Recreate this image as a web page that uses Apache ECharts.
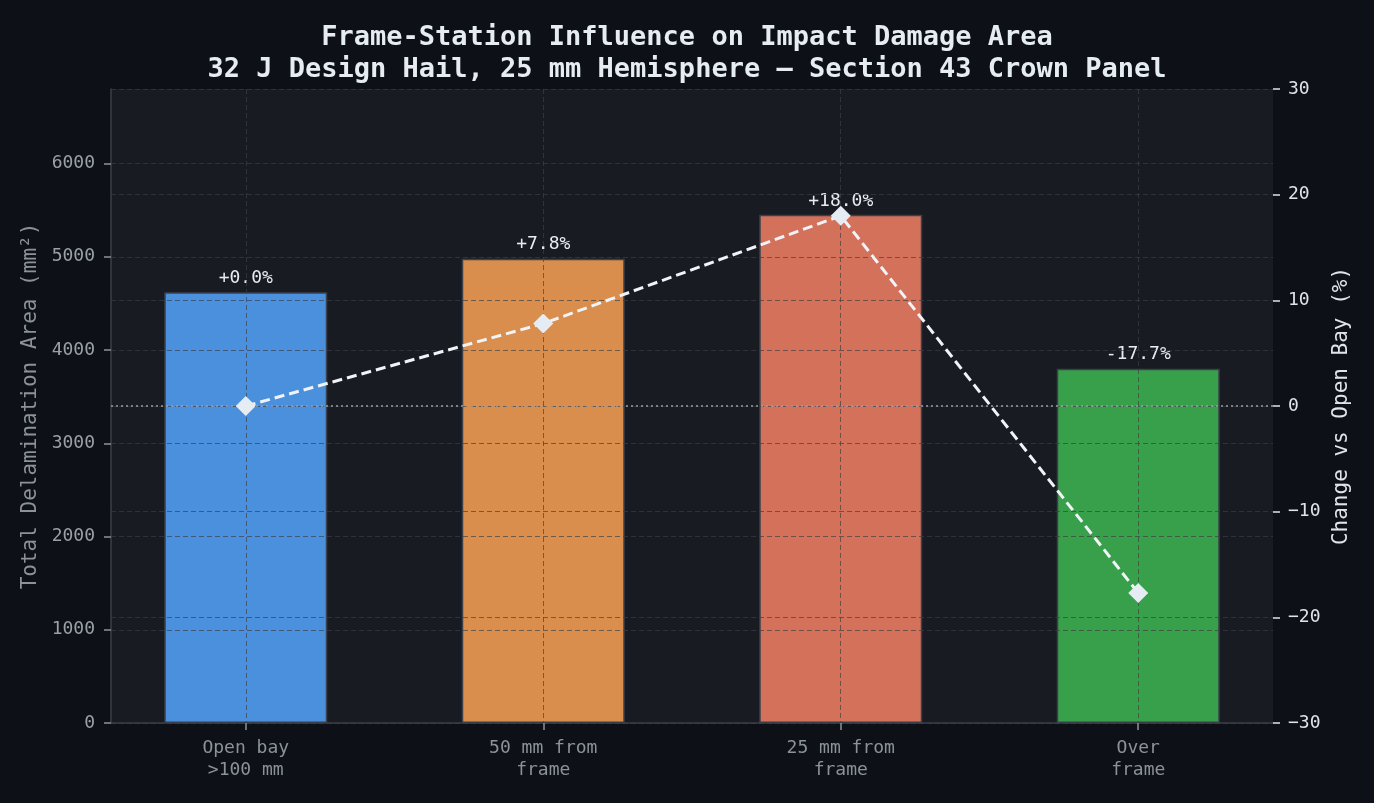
<!DOCTYPE html>
<html>
<head>
<meta charset="utf-8">
<title>Frame-Station Influence on Impact Damage Area</title>
<script src="https://cdn.jsdelivr.net/npm/echarts@6/dist/echarts.min.js"></script>
<style>
  html, body { margin: 0; padding: 0; background: #0d1017; }
  #chart { width: 1374px; height: 803px; }
</style>
</head>
<body>
<div id="chart"></div>
<script>
// data
const categories = ['Open bay\n>100 mm', '50 mm from\nframe', '25 mm from\nframe', 'Over\nframe'];
const positions = [0, 1, 2, 3];
const damageArea = [4620, 4980, 5450, 3800];   // mm²
const pctChange = [0.0, 7.8, 18.0, -17.7];     // % vs open bay
const leftTicks = [0, 1000, 2000, 3000, 4000, 5000, 6000];

const barColors = ['#4a90dd', '#da8e4d', '#d4715b', '#38a04a'];
const FONT = '"DejaVu Sans Mono", monospace';
// grid drawn above the bars, like the original
const gridLine = { show: true, lineStyle: { color: 'rgba(62,64,70,0.68)', type: [5, 3], width: 1 } };

const chart = echarts.init(document.getElementById('chart'));

const fmtPct = (v) => (v >= 0 ? '+' : '') + v.toFixed(1) + '%';
const fmtMinus = (v) => (v < 0 ? '\u2212' + Math.abs(v) : String(v));

const option = {
  backgroundColor: '#0d1017',
  animation: false,
  textStyle: { fontFamily: FONT },
  title: {
    text: 'Frame-Station Influence on Impact Damage Area\n32 J Design Hail, 25 mm Hemisphere \u2014 Section 43 Crown Panel',
    left: 'center',
    top: 17,
    textStyle: { color: '#e6ecf3', fontSize: 27, fontWeight: 'bold', fontFamily: FONT, lineHeight: 32 }
  },
  grid: {
    left: 111, right: 101, top: 89, bottom: 80,
    show: true, backgroundColor: '#181b22', borderWidth: 0
  },
  xAxis: {
    type: 'value',
    min: -0.453, max: 3.453,
    z: 3,
    axisLine: { show: true, onZero: false, lineStyle: { color: '#3a3f48', width: 1.5 } },
    axisTick: { show: true, customValues: positions, length: 7, lineStyle: { color: '#8b929a', width: 1.5 } },
    axisLabel: {
      customValues: positions,
      formatter: (v) => categories[Math.round(v)],
      color: '#8b929a', fontSize: 18, lineHeight: 22, margin: 14, fontFamily: FONT
    },
    splitLine: Object.assign({ customValues: positions }, gridLine)
  },
  yAxis: [
    {
      type: 'value',
      min: 0, max: 6800,
      interval: 1000,
      z: 3,
      name: 'Total Delamination Area (mm\u00b2)',
      nameLocation: 'middle',
      nameGap: 68,
      nameTextStyle: { color: '#8b929a', fontSize: 21, fontFamily: FONT },
      axisLine: { show: true, onZero: false, lineStyle: { color: '#3a3f48', width: 1.5 } },
      axisTick: { show: true, customValues: leftTicks, length: 7, lineStyle: { color: '#8b929a', width: 1.5 } },
      axisLabel: {
        customValues: leftTicks, formatter: (v) => String(v),
        color: '#9aa0a8', fontSize: 18, margin: 16, fontFamily: FONT
      },
      splitLine: gridLine
    },
    {
      type: 'value',
      min: -30, max: 30,
      interval: 10,
      position: 'right',
      z: 3,
      name: 'Change vs Open Bay (%)',
      nameLocation: 'middle',
      nameGap: 57,
      nameTextStyle: { color: '#e0e4ea', fontSize: 21, fontFamily: FONT },
      axisLine: { show: false, onZero: false },
      axisTick: { show: true, length: 7, lineStyle: { color: '#e0e4ea', width: 1.5 } },
      axisLabel: { color: '#e0e4ea', fontSize: 18, margin: 15, fontFamily: FONT, formatter: fmtMinus },
      splitLine: gridLine
    }
  ],
  series: [
    {
      type: 'bar',
      yAxisIndex: 0,
      barWidth: 163,
      z: 2,
      data: damageArea.map((v, i) => ({
        value: [positions[i], v],
        itemStyle: { color: barColors[i], borderColor: '#3b414a', borderWidth: 1.5 }
      })),
      label: {
        show: true,
        position: 'top',
        distance: 5,
        color: '#e8ecf0',
        fontSize: 18,
        fontFamily: FONT,
        formatter: (p) => fmtPct(pctChange[p.dataIndex])
      }
    },
    {
      type: 'line',
      yAxisIndex: 1,
      z: 5,
      data: pctChange.map((v, i) => [positions[i], v]),
      symbol: 'diamond',
      symbolSize: 20,
      itemStyle: { color: '#e6ecf3' },
      lineStyle: { color: '#f0f3f7', width: 3, type: [10, 5] },
      markLine: {
        silent: true,
        symbol: 'none',
        label: { show: false },
        lineStyle: { color: '#9a9fa8', type: [2, 3], width: 1.5 },
        data: [{ yAxis: 0 }]
      }
    }
  ]
};

chart.setOption(option);
</script>
</body>
</html>
